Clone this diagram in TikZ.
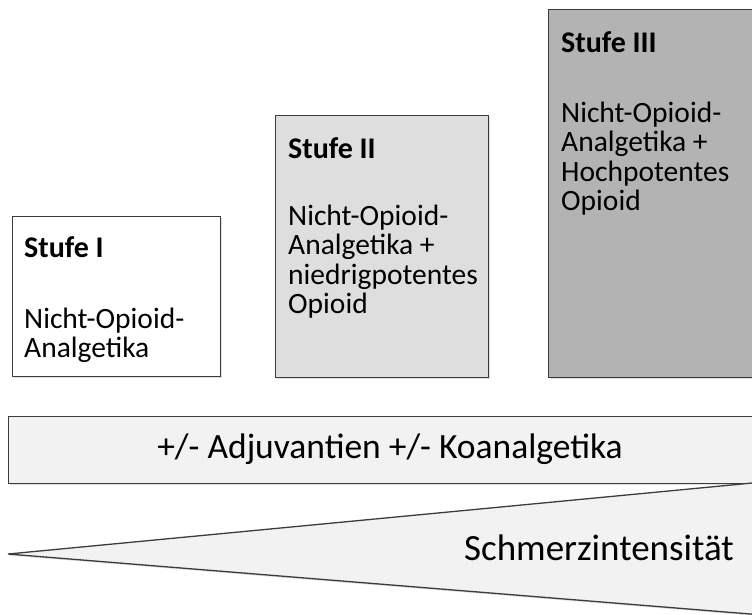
\documentclass[tikz,border=0pt]{standalone}
\usepackage{fontspec}
\setmainfont{Carlito}
\usetikzlibrary{shadows}
\definecolor{edge}{HTML}{3C3C3C}
\definecolor{lvlone}{HTML}{FFFFFF}
\definecolor{lvltwo}{HTML}{DEDEDE}
\definecolor{lvlthree}{HTML}{B3B3B3}
\definecolor{paleband}{HTML}{F2F2F2}
\tikzset{
  stagebox/.style={draw=edge, line width=1.3pt, anchor=north west, inner sep=0pt,
    drop shadow={opacity=0.25, shadow xshift=1pt, shadow yshift=-1.5pt}},
  headtxt/.style={anchor=base west, inner sep=0pt, font=\bfseries\fontsize{30}{31}\selectfont},
  bodytxt/.style={anchor=base west, inner sep=0pt, align=left, font=\fontsize{29.5}{29.5}\selectfont},
  bigtxt/.style={inner sep=0pt, font=\fontsize{35.5}{40}\selectfont}
}
\begin{document}
\begin{tikzpicture}[x=1pt,y=-1pt]
\useasboundingbox (0,0) rectangle (752,614);
\fill[white] (0,0) rectangle (752,614);
\begin{scope}
\clip (0,0) rectangle (752,614);
% stage boxes
\node[stagebox, fill=lvlone, minimum width=208pt, minimum height=160pt] (s1) at (12,216) {};
\node[stagebox, fill=lvltwo, minimum width=213pt, minimum height=262pt] (s2) at (275,115) {};
\node[stagebox, fill=lvlthree, minimum width=230pt, minimum height=368pt] (s3) at (548,9) {};
% texts (multi-line nodes: base = last line)
\node[headtxt] (h1) at (24,257) {Stufe I};
\node[bodytxt] (b1) at (24,357.5) {Nicht-Opioid-\\Analgetika};
\node[headtxt] (h2) at (288,158) {Stufe II};
\node[bodytxt] (b2) at (288,313.5) {Nicht-Opioid-\\Analgetika +\\niedrigpotentes\\Opioid};
\node[headtxt] (h3) at (561,52) {Stufe III};
\node[bodytxt] (b3) at (561,210.5) {Nicht-Opioid-\\Analgetika +\\Hochpotentes\\Opioid};
% adjuvant band
\node[stagebox, fill=paleband, minimum width=762pt, minimum height=67pt] (band) at (8,416) {};
\node[bigtxt, anchor=base] (bandtxt) at (390,458) {+/- Adjuvantien +/- Koanalgetika};
% intensity wedge
\coordinate (tip) at (8,554);
\coordinate (tr) at (790,479.4);
\coordinate (br) at (790,617.2);
\draw[draw=edge, line width=1.3pt, fill=paleband, line join=miter,
  drop shadow={opacity=0.25, shadow xshift=1pt, shadow yshift=-1.5pt}]
  (tip) -- (tr) -- (br) -- cycle;
\node[bigtxt, anchor=base east, font=\fontsize{37}{40}\selectfont] (wedgetxt) at (734,560) {Schmerzintensität};
\end{scope}
\end{tikzpicture}
\end{document}
